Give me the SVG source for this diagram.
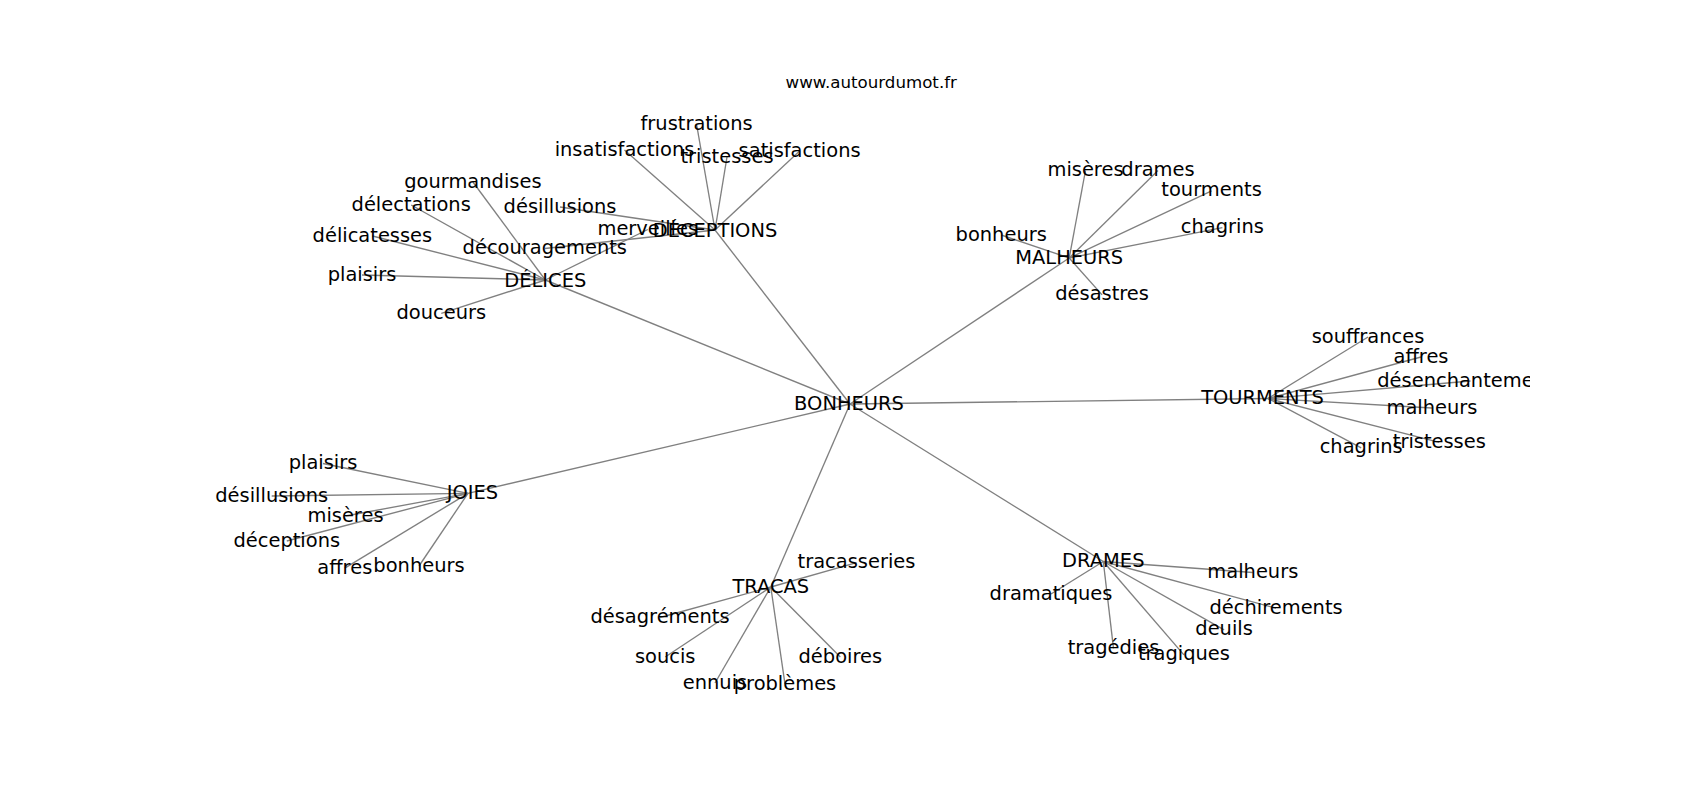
<svg xmlns="http://www.w3.org/2000/svg" width="1700" height="800" viewBox="0 0 1700 800">
<style>
.e{stroke:#808080;stroke-width:1.35;fill:none}
.l{font-family:"DejaVu Sans","Liberation Sans",sans-serif;font-size:19.44px;fill:#000;text-anchor:middle}
.t{font-family:"DejaVu Sans","Liberation Sans",sans-serif;font-size:16.67px;fill:#000;text-anchor:middle}
</style>
<defs>
<clipPath id="ax"><rect x="212.5" y="96" width="1317.5" height="608"/></clipPath>
</defs>
<rect width="1700" height="800" fill="#fff"/>
<text class="t" x="871.25" y="87.5">www.autourdumot.fr</text>
<g id="edges" clip-path="url(#ax)">
<line class="e" x1="850" y1="404" x2="545.3" y2="280"/>
<line class="e" x1="850" y1="404" x2="715" y2="230"/>
<line class="e" x1="850" y1="404" x2="1069.2" y2="258"/>
<line class="e" x1="850" y1="404" x2="1268" y2="398.5"/>
<line class="e" x1="850" y1="404" x2="468" y2="493.3"/>
<line class="e" x1="850" y1="404" x2="770.8" y2="587"/>
<line class="e" x1="850" y1="404" x2="1103.3" y2="561.5"/>
<line class="e" x1="545.3" y1="280" x2="472.9" y2="182"/>
<line class="e" x1="545.3" y1="280" x2="411.2" y2="205"/>
<line class="e" x1="545.3" y1="280" x2="372.4" y2="236"/>
<line class="e" x1="545.3" y1="280" x2="362" y2="275"/>
<line class="e" x1="545.3" y1="280" x2="441.3" y2="313.3"/>
<line class="e" x1="545.3" y1="280" x2="647.8" y2="229.5"/>
<line class="e" x1="715" y1="230" x2="696.6" y2="124.5"/>
<line class="e" x1="715" y1="230" x2="624.5" y2="150"/>
<line class="e" x1="715" y1="230" x2="727" y2="157"/>
<line class="e" x1="715" y1="230" x2="799.6" y2="151"/>
<line class="e" x1="715" y1="230" x2="560" y2="207"/>
<line class="e" x1="715" y1="230" x2="544.8" y2="248.5"/>
<line class="e" x1="1069.2" y1="258" x2="1085.5" y2="170.5"/>
<line class="e" x1="1069.2" y1="258" x2="1158" y2="170.5"/>
<line class="e" x1="1069.2" y1="258" x2="1211.6" y2="190.8"/>
<line class="e" x1="1069.2" y1="258" x2="1222.4" y2="227.7"/>
<line class="e" x1="1069.2" y1="258" x2="1001.2" y2="235"/>
<line class="e" x1="1069.2" y1="258" x2="1102.1" y2="294.9"/>
<line class="e" x1="1268" y1="398.5" x2="1368" y2="337"/>
<line class="e" x1="1268" y1="398.5" x2="1421" y2="357"/>
<line class="e" x1="1268" y1="398.5" x2="1470.5" y2="381"/>
<line class="e" x1="1268" y1="398.5" x2="1432" y2="408"/>
<line class="e" x1="1268" y1="398.5" x2="1439.3" y2="442.4"/>
<line class="e" x1="1268" y1="398.5" x2="1361.2" y2="447.8"/>
<line class="e" x1="468" y1="493.3" x2="323" y2="463.5"/>
<line class="e" x1="468" y1="493.3" x2="271.7" y2="496"/>
<line class="e" x1="468" y1="493.3" x2="345.5" y2="516"/>
<line class="e" x1="468" y1="493.3" x2="286.8" y2="541"/>
<line class="e" x1="468" y1="493.3" x2="344.8" y2="568.1"/>
<line class="e" x1="468" y1="493.3" x2="419" y2="566"/>
<line class="e" x1="770.8" y1="587" x2="856.5" y2="562.7"/>
<line class="e" x1="770.8" y1="587" x2="660" y2="617.5"/>
<line class="e" x1="770.8" y1="587" x2="665.2" y2="657"/>
<line class="e" x1="770.8" y1="587" x2="715" y2="683"/>
<line class="e" x1="770.8" y1="587" x2="785" y2="684.1"/>
<line class="e" x1="770.8" y1="587" x2="840.3" y2="657"/>
<line class="e" x1="1103.3" y1="561.5" x2="1252.8" y2="572.5"/>
<line class="e" x1="1103.3" y1="561.5" x2="1051" y2="594"/>
<line class="e" x1="1103.3" y1="561.5" x2="1276.1" y2="608.2"/>
<line class="e" x1="1103.3" y1="561.5" x2="1224.1" y2="629.9"/>
<line class="e" x1="1103.3" y1="561.5" x2="1113.5" y2="648.4"/>
<line class="e" x1="1103.3" y1="561.5" x2="1183.9" y2="654.9"/>
</g>
<g clip-path="url(#ax)">
<g id="n-bonheurs"><text class="l" x="849" y="409.5">BONHEURS</text></g>
<g id="n-delices"><text class="l" x="545.3" y="287">DÉLICES</text></g>
<g id="n-deceptions"><text class="l" x="715" y="237">DÉCEPTIONS</text></g>
<g id="n-malheurs"><text class="l" x="1069.2" y="263.5">MALHEURS</text></g>
<g id="n-tourments"><text class="l" x="1262.5" y="404">TOURMENTS</text></g>
<g id="n-joies"><text class="l" x="472.4" y="498.8">JOIES</text></g>
<g id="n-tracas"><text class="l" x="770.8" y="592.5">TRACAS</text></g>
<g id="n-drames"><text class="l" x="1103.3" y="567">DRAMES</text></g>

<g id="n-delices-gourmandises"><text class="l" x="472.9" y="187.5">gourmandises</text></g>
<g id="n-delices-delectations"><text class="l" x="411.2" y="210.5">délectations</text></g>
<g id="n-delices-delicatesses"><text class="l" x="372.4" y="241.5">délicatesses</text></g>
<g id="n-delices-plaisirs"><text class="l" x="362" y="280.5">plaisirs</text></g>
<g id="n-delices-douceurs"><text class="l" x="441.3" y="318.8">douceurs</text></g>
<g id="n-delices-merveilles"><text class="l" x="647.8" y="235">merveilles</text></g>

<g id="n-deceptions-frustrations"><text class="l" x="696.6" y="130">frustrations</text></g>
<g id="n-deceptions-insatisfactions"><text class="l" x="624.5" y="155.5">insatisfactions</text></g>
<g id="n-deceptions-tristesses"><text class="l" x="727" y="162.5">tristesses</text></g>
<g id="n-deceptions-satisfactions"><text class="l" x="799.6" y="156.5">satisfactions</text></g>
<g id="n-deceptions-desillusions"><text class="l" x="560" y="212.5">désillusions</text></g>
<g id="n-deceptions-decouragements"><text class="l" x="544.8" y="254">découragements</text></g>

<g id="n-malheurs-miseres"><text class="l" x="1085.5" y="176">misères</text></g>
<g id="n-malheurs-drames"><text class="l" x="1158" y="176">drames</text></g>
<g id="n-malheurs-tourments"><text class="l" x="1211.6" y="196.3">tourments</text></g>
<g id="n-malheurs-chagrins"><text class="l" x="1222.4" y="233.2">chagrins</text></g>
<g id="n-malheurs-bonheurs"><text class="l" x="1001.2" y="240.5">bonheurs</text></g>
<g id="n-malheurs-desastres"><text class="l" x="1102.1" y="300.4">désastres</text></g>

<g id="n-tourments-souffrances"><text class="l" x="1368" y="342.5">souffrances</text></g>
<g id="n-tourments-affres"><text class="l" x="1421" y="362.5">affres</text></g>
<g id="n-tourments-desenchantements"><text class="l" x="1470.5" y="386.5">désenchantements</text></g>
<g id="n-tourments-malheurs"><text class="l" x="1432" y="413.5">malheurs</text></g>
<g id="n-tourments-tristesses"><text class="l" x="1439.3" y="447.9">tristesses</text></g>
<g id="n-tourments-chagrins"><text class="l" x="1361.2" y="453.3">chagrins</text></g>

<g id="n-joies-plaisirs"><text class="l" x="323" y="469">plaisirs</text></g>
<g id="n-joies-desillusions"><text class="l" x="271.7" y="501.5">désillusions</text></g>
<g id="n-joies-miseres"><text class="l" x="345.5" y="521.5">misères</text></g>
<g id="n-joies-deceptions"><text class="l" x="286.8" y="546.5">déceptions</text></g>
<g id="n-joies-affres"><text class="l" x="344.8" y="573.6">affres</text></g>
<g id="n-joies-bonheurs"><text class="l" x="419" y="571.5">bonheurs</text></g>

<g id="n-tracas-tracasseries"><text class="l" x="856.5" y="568.2">tracasseries</text></g>
<g id="n-tracas-desagrements"><text class="l" x="660" y="623">désagréments</text></g>
<g id="n-tracas-soucis"><text class="l" x="665.2" y="662.5">soucis</text></g>
<g id="n-tracas-ennuis"><text class="l" x="715" y="688.5">ennuis</text></g>
<g id="n-tracas-problemes"><text class="l" x="785" y="689.6">problèmes</text></g>
<g id="n-tracas-deboires"><text class="l" x="840.3" y="662.5">déboires</text></g>

<g id="n-drames-malheurs"><text class="l" x="1252.8" y="578">malheurs</text></g>
<g id="n-drames-dramatiques"><text class="l" x="1051" y="599.5">dramatiques</text></g>
<g id="n-drames-dechirements"><text class="l" x="1276.1" y="613.7">déchirements</text></g>
<g id="n-drames-deuils"><text class="l" x="1224.1" y="635.4">deuils</text></g>
<g id="n-drames-tragedies"><text class="l" x="1113.5" y="653.9">tragédies</text></g>
<g id="n-drames-tragiques"><text class="l" x="1183.9" y="660.4">tragiques</text></g>
</g>
</svg>
